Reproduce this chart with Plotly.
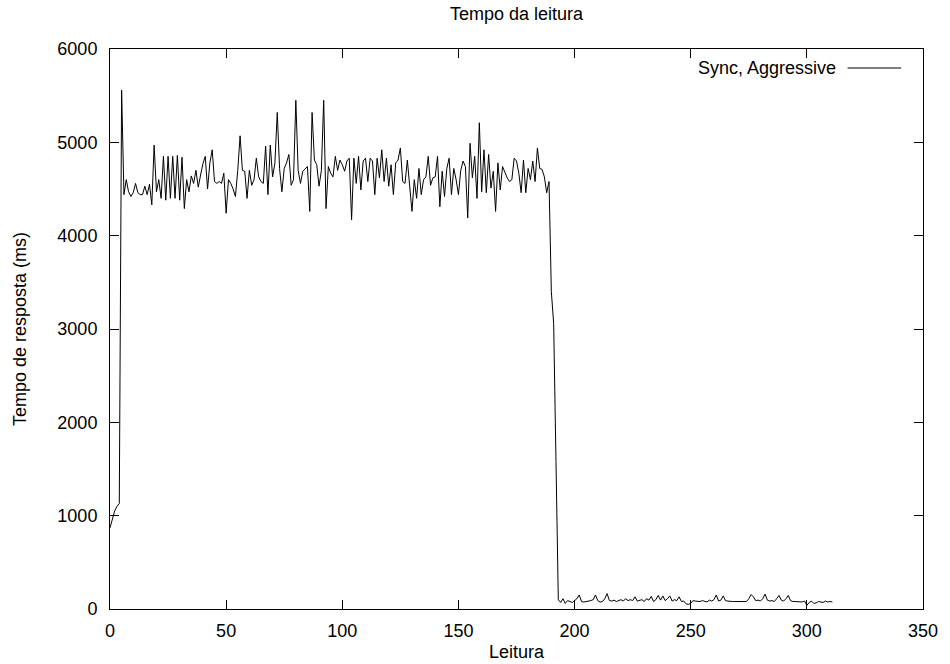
import plotly.graph_objects as go

# Response time (ms) for each reading (Leitura index 0..311)
tempo = [
    870, 950, 1050, 1100, 1130, 5560, 4440, 4600, 4470, 4420,
    4460, 4560, 4460, 4440, 4440, 4530, 4440, 4550, 4330, 4970,
    4470, 4600, 4400, 4850, 4380, 4850, 4400, 4850, 4400, 4860,
    4380, 4840, 4290, 4600, 4470, 4640, 4560, 4700, 4520, 4650,
    4770, 4850, 4500, 4780, 4920, 4580, 4560, 4580, 4560, 4670,
    4240, 4600, 4560, 4500, 4420, 4700, 5070, 4700, 4690, 4400,
    4700, 4540, 4600, 4830, 4630, 4580, 4560, 4960, 4440, 4970,
    4630, 4780, 5320, 4720, 4470, 4720, 4780, 4870, 4540, 4600,
    5450, 4700, 4560, 4690, 4720, 4740, 4260, 5320, 4810, 4760,
    4530, 4700, 5450, 4290, 4740, 4670, 4630, 4850, 4700, 4810,
    4760, 4690, 4800, 4830, 4170, 4830, 4560, 4850, 4490, 4800,
    4830, 4580, 4830, 4800, 4440, 4830, 4620, 4920, 4580, 4830,
    4530, 4760, 4440, 4780, 4810, 4940, 4580, 4560, 4810, 4490,
    4260, 4600, 4400, 4720, 4440, 4600, 4630, 4850, 4540, 4620,
    4630, 4850, 4310, 4690, 4420, 4720, 4830, 4440, 4720, 4600,
    4440, 4700, 4800, 4740, 4190, 4990, 4620, 4850, 4400, 5210,
    4470, 4920, 4460, 4870, 4510, 4690, 4260, 4780, 4490, 4740,
    4670, 4620, 4580, 4600, 4830, 4800, 4670, 4460, 4810, 4460,
    4720, 4600, 4800, 4580, 4940, 4720, 4710, 4630, 4460, 4580,
    3400, 3060, 1580, 100, 70, 110, 60, 90, 80, 70,
    90, 110, 150, 80, 75, 80, 80, 90, 100, 150,
    90, 75, 80, 110, 165, 90, 85, 95, 80, 90,
    100, 85, 110, 90, 100, 90, 130, 85, 90, 100,
    80, 110, 95, 135, 80, 100, 145, 95, 140, 90,
    110, 140, 85, 100, 90, 130, 80, 85, 55, 50,
    60, 90, 85, 80, 80, 90, 80, 75, 95, 85,
    100, 150, 85, 95, 140, 90, 85, 80, 80, 80,
    80, 80, 85, 80, 80, 110, 155, 130, 90, 95,
    85, 110, 160, 95, 85, 90, 80, 110, 145, 95,
    85, 110, 145, 90, 80, 80, 80, 80, 75, 85,
    40, 70, 85, 60, 65, 80, 75, 70, 85, 75,
    80, 75,
]
leitura = list(range(len(tempo)))

x_ticks = [0, 50, 100, 150, 200, 250, 300, 350]
y_ticks = [0, 1000, 2000, 3000, 4000, 5000, 6000]
series_name = "Sync, Aggressive"
title_text = "Tempo da leitura"
x_title = "Leitura"
y_title = "Tempo de resposta (ms)"

FONT = "Liberation Sans, Arial, Helvetica, sans-serif"
FS = 18

fig = go.Figure()
fig.add_trace(go.Scatter(
    x=leitura, y=tempo, mode="lines", name=series_name,
    line=dict(color="black", width=1), showlegend=False,
))

axis_common = dict(
    showline=True, linecolor="black", linewidth=1, mirror="ticks",
    ticks="inside", ticklen=9, tickcolor="black", tickwidth=1,
    showgrid=False, zeroline=False,
    tickfont=dict(family=FONT, size=FS, color="black"),
)

fig.update_layout(
    width=950, height=664,
    margin=dict(l=110, r=21, t=49, b=55),
    paper_bgcolor="white", plot_bgcolor="white",
    font=dict(family=FONT, size=FS, color="black"),
    title=dict(text=title_text, x=0.5, xref="paper", y=1 - 14 / 664,
               yref="container", xanchor="center", yanchor="middle",
               font=dict(family=FONT, size=FS, color="black")),
    xaxis=dict(range=[0, 350], tickvals=x_ticks, ticklabelstandoff=5, **axis_common),
    yaxis=dict(range=[0, 6000], tickvals=y_ticks, ticklabelstandoff=8, **axis_common),
)

# axis titles
fig.add_annotation(text=x_title, xref="paper", yref="paper", x=0.5, y=0,
                   yshift=-43, showarrow=False, xanchor="center", yanchor="middle",
                   font=dict(family=FONT, size=FS, color="black"))
fig.add_annotation(text=y_title, xref="paper", yref="paper", x=0, y=0.5,
                   xshift=-90, showarrow=False, textangle=-90,
                   xanchor="center", yanchor="middle",
                   font=dict(family=FONT, size=FS, color="black"))

# gnuplot-style key: text followed by line sample, top right
key_y = (609 - 68) / 560
fig.add_annotation(text=series_name, xref="paper", yref="paper",
                   x=(843 - 110) / 819, y=key_y, showarrow=False,
                   xanchor="right", yanchor="middle",
                   font=dict(family=FONT, size=FS, color="black"))
fig.add_shape(type="line", xref="paper", yref="paper",
              x0=(853 - 110) / 819, x1=(907 - 110) / 819, y0=key_y, y1=key_y,
              line=dict(color="black", width=1))

fig.write_html(
    "out.html",
    config={"displayModeBar": False},
    post_script="document.body.style.margin='0';document.body.style.overflow='hidden';",
)
